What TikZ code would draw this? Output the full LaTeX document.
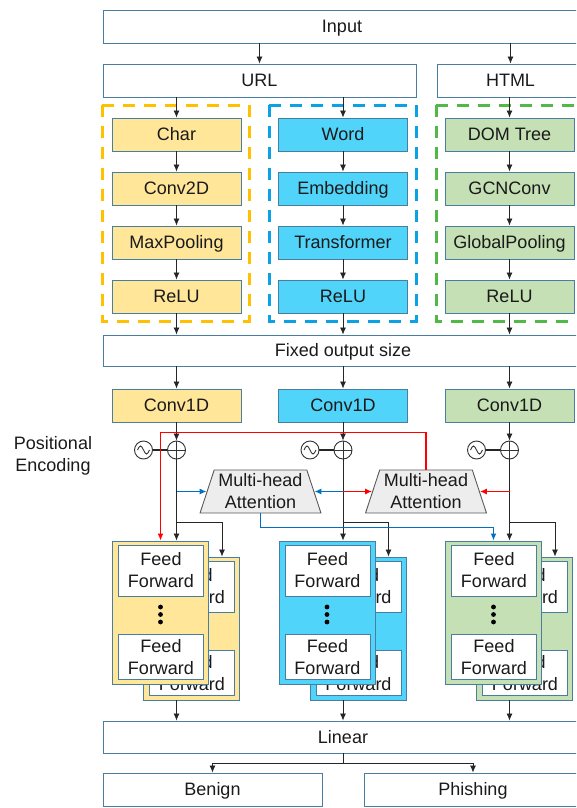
\documentclass[tikz,border=0pt]{standalone}
\usepackage{fontspec}
\setmainfont{Liberation Sans}
\usetikzlibrary{shapes.geometric,arrows,arrows.meta,positioning}

\definecolor{boxline}{HTML}{4A7EA0}
\definecolor{txt}{HTML}{1A1A1A}
\definecolor{fillY}{HTML}{FFE699}
\definecolor{fillB}{HTML}{50D4FA}
\definecolor{fillG}{HTML}{C5E0B4}
\definecolor{dashY}{HTML}{FFC000}
\definecolor{dashB}{HTML}{0AA2E5}
\definecolor{dashG}{HTML}{52B848}
\definecolor{attfill}{HTML}{EDEDED}
\definecolor{attline}{HTML}{595959}
\definecolor{redline}{HTML}{FF0000}
\definecolor{blueline}{HTML}{0070C0}

\begin{document}
\begin{tikzpicture}[x=1pt, y=-1pt,
  font=\fontsize{18}{22}\selectfont, text=txt,
  box/.style={draw=boxline, line width=0.9pt, minimum height=33, inner sep=0,
    text height=16.3, text depth=3.8},
  layer/.style={box, minimum width=129},
  grp/.style={line width=3pt, dash pattern=on 12pt off 9pt},
  arr/.style={-{Latex[length=7pt,width=6pt]}, line width=0.8pt, draw=black!85},
  rarr/.style={-{Latex[length=7pt,width=6pt]}, line width=1.5pt, draw=redline},
  barr/.style={-{Latex[length=7pt,width=6pt]}, line width=1.5pt, draw=blueline},
  pe/.style={circle, draw=black!80, line width=0.9pt, minimum size=18, inner sep=0},
  mha/.style={trapezium, trapezium left angle=70, trapezium right angle=70,
    trapezium stretches=true, minimum width=121, minimum height=43, inner sep=0,
    draw=attline, fill=attfill, line width=0.9pt, align=center},
  stack/.style={draw=boxline, line width=0.9pt, minimum width=96, minimum height=143, inner sep=0},
  ffbox/.style={draw=boxline, line width=0.9pt, fill=white, minimum width=85, inner sep=0, align=center}]
  \useasboundingbox (0,0) rectangle (576,808);
  \clip (0,0) rectangle (576,808);

  % input split
  \node[box, minimum width=478] (input) at (342,26.5) {Input};
  \node[box, minimum width=313] (url) at (259.5,80.5) {URL};
  \node[box, minimum width=147] (html) at (510.5,80.5) {HTML};
  \draw[arr] (input.south -| url) -- (url);
  \draw[arr] (input.south -| html) -- (html);

  % feature branches
  \draw[grp, draw=dashY] (102,105) rectangle (249,321);
  \draw[grp, draw=dashB] (269,105) rectangle (416,321);
  \draw[grp, draw=dashG] (436,105) rectangle (583,321);
  \foreach \n/\t [count=\i from 0] in {char/Char, conv2d/Conv2D, maxpool/MaxPooling, reluY/ReLU}
    \node[layer, fill=fillY] (\n) at (176.5,134.5+54*\i) {\t};
  \foreach \n/\t [count=\i from 0] in {word/Word, embed/Embedding, transf/Transformer, reluB/ReLU}
    \node[layer, fill=fillB] (\n) at (343,134.5+54*\i) {\t};
  \foreach \n/\t [count=\i from 0] in {dom/DOM Tree, gcn/GCNConv, gpool/GlobalPooling, reluG/ReLU}
    \node[layer, fill=fillG] (\n) at (509.5,134.5+54*\i) {\t};
  \draw[arr] (url.south -| char) -- (char);
  \draw[arr] (url.south -| word) -- (word);
  \draw[arr] (html.south -| dom) -- (dom);
  \foreach \a/\b in {char/conv2d, conv2d/maxpool, maxpool/reluY,
                     word/embed, embed/transf, transf/reluB,
                     dom/gcn, gcn/gpool, gpool/reluG}
    \draw[arr] (\a) -- (\b);

  \node[box, minimum width=480, minimum height=31] (fixed) at (343,350.5) {Fixed output size};
  \foreach \n in {reluY, reluB, reluG}
    \draw[arr] (\n) -- (fixed.north -| \n);

  % conv1d + positional encoding
  \node[layer, fill=fillY] (convY) at (176.5,405.5) {Conv1D};
  \node[layer, fill=fillB] (convB) at (343,405.5) {Conv1D};
  \node[layer, fill=fillG] (convG) at (509.5,405.5) {Conv1D};
  \node[align=center] (posenc) at (53,456) {Positional\\Encoding};
  \foreach \c/\x in {Y/176.5, B/343, G/509.5} {
    \draw[arr] (fixed.south -| conv\c) -- (conv\c);
    \node[pe] (plus\c) at (\x,450) {};
    \node[pe] (sin\c) at (\x-33,450) {};
    \draw[black!80, line width=0.9pt] (plus\c.north) -- (plus\c.south) (plus\c.west) -- (plus\c.east);
    \draw[black!80, line width=0.9pt] ([xshift=-6pt]sin\c.center) sin ++(3,-4) cos ++(3,4) sin ++(3,4) cos ++(3,-4);
    \draw[black!85, line width=2.4pt] (sin\c) -- (plus\c);
    \draw[arr] (conv\c) -- (plus\c);
  }

  % attention
  \node[mha] (mhaL) at (260.5,491.5) {Multi-head\\Attention};
  \node[mha] (mhaR) at (426,491.5) {Multi-head\\Attention};

  % feed forward stacks (back copy, then front copy)
  \foreach \c/\x/\fc in {Y/176.5/fillY, B/343/fillB, G/509.5/fillG} {
    \node[stack, fill=\fc] (ffb\c) at (\x+15,628.5) {};
    \node[ffbox, minimum height=51] at (\x+15.5,586.5) {Feed\\Forward};
    \node[ffbox, minimum height=45] at (\x+15.5,673) {Feed\\Forward};
    \node[stack, fill=\fc] (ff\c) at (\x-16,612.5) {};
    \node[ffbox, minimum height=51] (ff\c top) at (\x-15.5,570.5) {Feed\\Forward};
    \node[ffbox, minimum height=45] (ff\c bot) at (\x-15.5,657) {Feed\\Forward};
    \foreach \d in {607,614.5,622}
      \fill (\x-16,\d) circle (2.4);
    \draw[arr] (plus\c) -- (plus\c |- ff\c.north);
    \coordinate (tap\c) at (\x+45.5,522);
    \draw[arr] (plus\c |- tap\c) -- (tap\c) -- (tap\c |- ffb\c.north);
  }

  \draw[barr] (plusY |- mhaL.west) -- (mhaL.west);
  \draw[barr] (plusB |- mhaL.east) -- (mhaL.east);
  \draw[rarr] (plusB |- mhaR.west) -- (mhaR.west);
  \draw[rarr] (plusG |- mhaR.east) -- (mhaR.east);
  \draw[rarr] (mhaR.north) -- ++(0,-37) -| (ffY.north);
  \draw[barr] (mhaL.south) -- ++(0,14) -| (ffG.north);

  % output
  \node[box, minimum width=480, minimum height=32] (linear) at (343,737) {Linear};
  \node[box, minimum width=219] (benign) at (212.5,789.5) {Benign};
  \node[box, minimum width=218] (phishing) at (473,789.5) {Phishing};
  \foreach \c in {Y, B, G}
    \draw[arr] (ffb\c.south -| plus\c) -- (linear.north -| plus\c);
  \coordinate (split) at (343,763);
  \draw[line width=0.8pt, black!85] (linear.south -| split) -- (split);
  \draw[arr] (split) -| (benign);
  \draw[arr] (split) -| (phishing);
\end{tikzpicture}
\end{document}
